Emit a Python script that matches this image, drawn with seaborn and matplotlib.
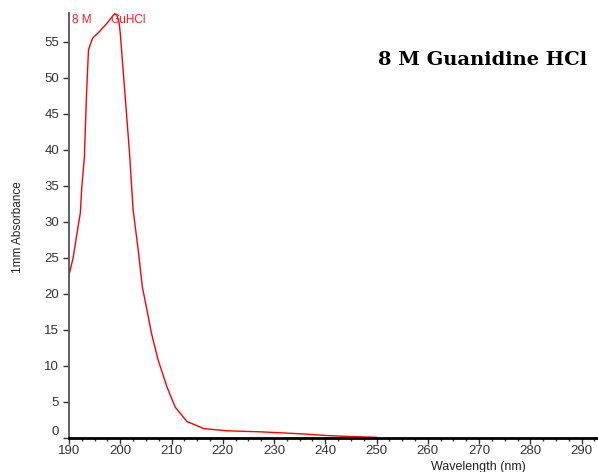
import matplotlib
matplotlib.use("Agg")
import matplotlib.pyplot as plt
import seaborn as sns
import numpy as np
from matplotlib.ticker import MultipleLocator

# Data
wavelength = [190.0, 190.8, 191.6, 192.2, 192.5, 193.0, 193.4, 193.8, 194.6, 195.9,
              197.2, 198.9, 199.3, 199.8, 200.0, 200.5, 201.0, 201.5, 201.8, 202.5,
              203.5, 204.3, 205.2, 206.1, 207.4, 209.1, 210.7, 213.0, 216.3, 220.9,
              227.5, 232.0, 236.0, 240.0, 245.0, 250.0]
absorbance = [22.6, 25.0, 28.6, 31.2, 34.9, 39.0, 47.4, 53.9, 55.5, 56.4,
              57.4, 58.9, 58.8, 57.5, 56.2, 51.6, 47.0, 42.4, 39.6, 31.7,
              26.1, 21.0, 17.8, 14.5, 10.8, 7.1, 4.3, 2.3, 1.3, 1.0,
              0.85, 0.7, 0.55, 0.35, 0.2, 0.1]
x_ticks = [190, 200, 210, 220, 230, 240, 250, 260, 270, 280, 290]
y_ticks = [0, 5, 10, 15, 20, 25, 30, 35, 40, 45, 50, 55]
title_text = "8 M Guanidine HCl"
series_label_a = "8 M"
series_label_b = "GuHCl"
y_label = "1mm Absorbance"
x_label = "Wavelength (nm)"

sns.set_style("white")
plt.rcParams['font.family'] = ['Liberation Sans', 'DejaVu Sans']

W, H = 598, 472
fig = plt.figure(figsize=(W / 100, H / 100), dpi=100)
fig.patch.set_facecolor("white")
ax = fig.add_axes([69 / W, 1 - 438 / H, (597 - 69) / W, (438 - 13) / H])

sns.lineplot(x=wavelength, y=absorbance, color="#ff0000", linewidth=1.0, ax=ax)

ax.set_xlim(190, 293)
ax.set_ylim(0, 59)
ax.set_xticks(x_ticks)
ax.set_yticks(y_ticks)
ax.xaxis.set_minor_locator(MultipleLocator(2.5))

for s in ["top", "right"]:
    ax.spines[s].set_visible(False)
ax.spines["left"].set_color("#555555")
ax.spines["left"].set_linewidth(1.3)
ax.spines["bottom"].set_color("#000000")
ax.spines["bottom"].set_linewidth(2.0)

ax.tick_params(axis="both", which="major", direction="out", length=4, width=1,
               color="#333333", labelsize=9.5, labelcolor="#333333")
ax.tick_params(axis="x", which="major", bottom=True, pad=1)
ax.tick_params(axis="y", which="major", left=True, pad=3)
ax.tick_params(axis="x", which="minor", bottom=True, direction="out", length=2.5,
               width=1, color="#333333")
ax.set_xlabel("")
ax.set_ylabel("")
ax.grid(False)

# the zero label sits slightly above its tick in the reference
fig.canvas.draw()
for lab in ax.get_yticklabels():
    if lab.get_text() == "0":
        lab.set_va("bottom")

fig.text(378 / W, 1 - 60 / H, title_text, fontsize=14, fontweight="bold",
         family=["DejaVu Serif"], va="center", ha="left", color="black")
fig.text(72 / W, 1 - 20 / H, series_label_a, fontsize=8.5, color="#ff2020", va="center", ha="left")
fig.text(110 / W, 1 - 20 / H, series_label_b, fontsize=8.5, color="#ff2020", va="center", ha="left")
fig.text(18 / W, 1 - 227 / H, y_label, fontsize=8.5, rotation=90, color="#222222",
         va="center", ha="center")
fig.text(478 / W, 1 - 470 / H, x_label, fontsize=9, color="#222222", va="baseline", ha="center")

fig.savefig("out.png", dpi=100, facecolor="white")
